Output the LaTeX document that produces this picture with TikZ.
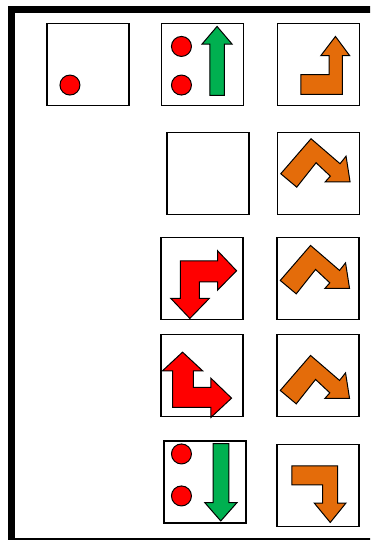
\documentclass[tikz,border=0pt]{standalone}
\usepackage{xcolor}
\usepackage{tikz}
\definecolor{puzRed}{HTML}{FF0000}
\definecolor{puzGreen}{HTML}{00B050}
\definecolor{puzOrange}{HTML}{E46C0A}
\definecolor{puzLine}{HTML}{000000}
\usetikzlibrary{positioning}

\begin{document}
\begin{tikzpicture}[
  x=1pt, y=-1pt,
  cell/.style={draw=puzLine, line width=1.5pt, minimum size=82pt, inner sep=0pt, fill=white},
  dot/.style={draw=puzLine, line width=1pt, fill=puzRed},
  redarrow/.style={draw=puzLine, line width=1pt, fill=puzRed, line join=miter},
  greenarrow/.style={draw=puzLine, line width=1pt, fill=puzGreen, line join=miter},
  orangearrow/.style={draw=puzLine, line width=1pt, fill=puzOrange, line join=miter}
]
\useasboundingbox (0,0) rectangle (370,540);
\clip (0,0) rectangle (370,540);

% Frame
\draw[puzLine, line width=7pt] (11.5,9.5) rectangle (400,541);

% Cells
\node[cell] (topA) at (88,64.5) {};
\node[cell] (topB) at (202.5,64.5) {};
\node[cell] (topC) at (318.5,64.5) {};
\node[cell] (midD) at (208,173.5) {};
\node[cell] (midE) at (318.5,173.5) {};
\node[cell] (rowF) at (202,278.5) {};
\node[cell] (rowG) at (318,278.5) {};
\node[cell] (rowH) at (202,375.5) {};
\node[cell] (rowI) at (318,375.5) {};
\node[cell] (botJ) at (205,482) {};
\node[cell] (botK) at (318,485.5) {};

% Dots
\begin{scope}[shift={(topA.north west)}]
  \draw[dot] (23.7,62.3) circle (10);
\end{scope}
\begin{scope}[shift={(topB.north west)}]
  \draw[dot] (20.7,23.7) circle (10);
  \draw[dot] (20.7,62.3) circle (10);
  \draw[greenarrow] (49,72.7) -- (49,21.3) -- (41.3,21.3) -- (56.3,3.7) -- (71.3,21.3) -- (63.7,21.3) -- (63.7,72.7) -- cycle;
\end{scope}
\begin{scope}[shift={(botJ.north west)}]
  \draw[dot] (18.2,13.7) circle (10);
  \draw[dot] (18.2,55.7) circle (10);
  \draw[greenarrow] (49.8,3.3) -- (49.8,62.3) -- (41.5,62.3) -- (57.5,80.7) -- (73.8,62.3) -- (65.5,62.3) -- (65.5,3.3) -- cycle;
\end{scope}

% Orange arrows
\begin{scope}[shift={(topC.north west)}]
  \draw[orangearrow] (24,52) -- (52.3,52) -- (52.3,33) -- (44,33) -- (58.7,13.7) -- (73,33) -- (65.7,33) -- (65.7,71.7) -- (24,71.7) -- cycle;
\end{scope}
\begin{scope}[shift={(midE.north west)}]
  \draw[orangearrow] (4,42) -- (34.3,7) -- (63.3,32) -- (69.3,24.4) -- (73.3,50) -- (48.6,50) -- (53.6,44.4) -- (39.3,31) -- (20,55.4) -- cycle;
\end{scope}
\begin{scope}[shift={(rowG.north west)}, yshift=-1.7pt]
  \draw[orangearrow] (4,42) -- (34.3,7) -- (63.3,32) -- (69.3,24.4) -- (73.3,50) -- (48.6,50) -- (53.6,44.4) -- (39.3,31) -- (20,55.4) -- cycle;
\end{scope}
\begin{scope}[shift={(rowI.north west)}, yshift=-14.7pt]
  \draw[orangearrow] (4,42) -- (34.3,7) -- (63.3,32) -- (69.3,24.4) -- (73.3,50) -- (48.6,50) -- (53.6,44.4) -- (39.3,31) -- (20,55.4) -- cycle;
\end{scope}
\begin{scope}[shift={(botK.north west)}]
  \draw[orangearrow] (15.7,22) -- (61.3,22) -- (61.3,59.3) -- (69.7,59.3) -- (54,78.7) -- (38,59.3) -- (46.3,59.3) -- (46.3,41) -- (15.7,41) -- cycle;
\end{scope}

% Red arrows
\begin{scope}[shift={(rowF.north west)}]
  \draw[redarrow] (20,24) -- (57.3,24) -- (57.3,14) -- (76.3,34) -- (57.3,53.4) -- (57.3,45) -- (39,45) -- (39,61.7) -- (49,61.7) -- (29.6,81.7) -- (10.6,61.7) -- (20,61.7) -- cycle;
\end{scope}
\begin{scope}[shift={(rowH.north west)}]
  \draw[redarrow] (22.3,18.4) -- (42.3,37) -- (33,37) -- (33,53.7) -- (50.6,53.7) -- (50.6,44.4) -- (71.3,64.4) -- (50.6,83.7) -- (50.6,73.7) -- (12.3,73.7) -- (12.3,37) -- (2.3,37) -- cycle;
\end{scope}

\end{tikzpicture}
\end{document}
